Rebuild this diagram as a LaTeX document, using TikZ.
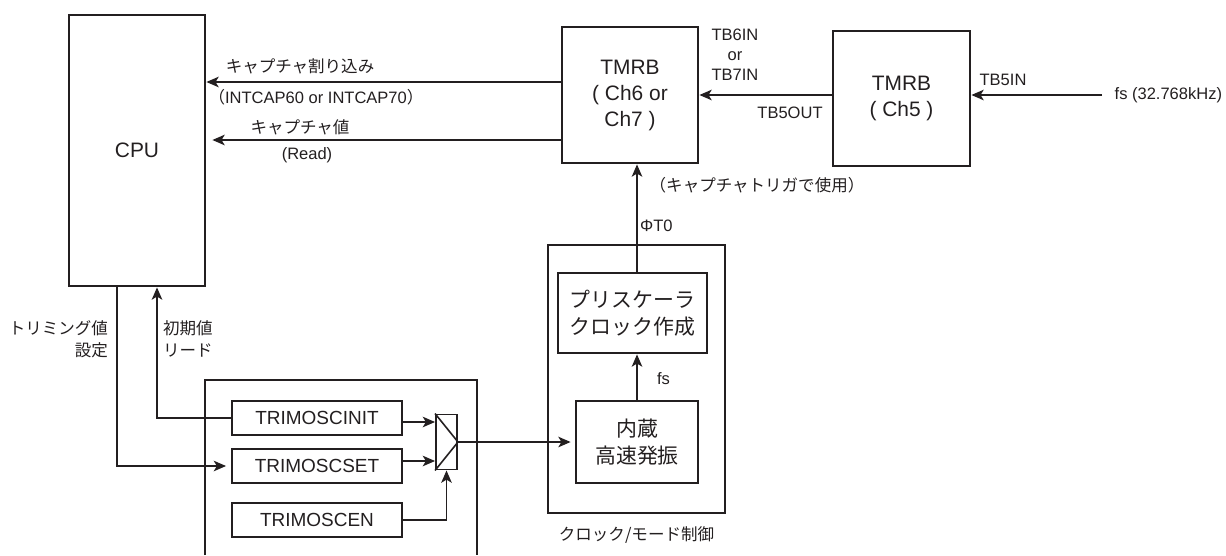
\documentclass[tikz,border=0pt]{standalone}
\usepackage{fontspec}
\setmainfont{Liberation Sans}
\newfontfamily\jpfont{Noto Sans CJK JP}
\usepackage{tikz}
\usetikzlibrary{arrows.meta,positioning,calc}
\definecolor{ink}{HTML}{231F20}
\newcommand\lblfont{\fontsize{9.4}{11.3}\selectfont}
\newcommand\boxfont{\fontsize{11.9}{14.8}\selectfont}
\newcommand\regfont{\fontsize{10.8}{13}\selectfont}
\tikzset{
  % thick outlined block, text centred
  blk/.style  = {rectangle, draw=ink, line width=1.6pt, text=ink, align=center,
                 inner sep=0pt, font=\boxfont},
  jblk/.style = {blk, font=\fontsize{11.9}{15.3}\selectfont\jpfont},
  reg/.style  = {rectangle, draw=ink, line width=1.1pt, text=ink, inner sep=0pt,
                 minimum width=3.4cm, minimum height=0.68cm, font=\regfont},
  arr/.style  = {-{Stealth[length=7pt,width=6pt,inset=1.8pt]}, line width=0.9pt, ink},
  lbl/.style  = {font=\lblfont, text=ink, align=center, inner sep=1pt},
  jlbl/.style = {lbl, font=\fontsize{9.4}{12.5}\selectfont\jpfont},
}
\begin{document}
\begin{tikzpicture}[x=1cm,y=1cm]
\useasboundingbox (0,0) rectangle (24.52,11.1);
% blocks
\node[blk, minimum width=2.72cm, minimum height=5.42cm] (cpu) at (2.74,8.09) {CPU};
\node[blk, minimum width=2.72cm, minimum height=2.72cm] (tm67) at (12.60,9.20)
  {TMRB\\( Ch6 or\\Ch7 )};
\node[blk, minimum width=2.74cm, minimum height=2.70cm] (tm5) at (18.03,9.13)
  {TMRB\\( Ch5 )};
\node[blk, minimum width=3.54cm, minimum height=5.36cm] (clk) at (12.73,3.52) {};
\node[jblk, minimum width=2.98cm, minimum height=1.60cm] (pre) at (12.65,4.84)
  {プリスケーラ\\クロック作成};
\node[jblk, minimum width=2.44cm, minimum height=1.64cm] (osc) at (12.74,2.26)
  {内蔵\\高速発振};
% trimming register group
\draw[ink, line width=1.6pt] (4.10,0) -- (4.10,3.50) -- (9.54,3.50) -- (9.54,0);
\node[reg] (ini) at (6.34,2.74) {TRIMOSCINIT};
\node[reg] (set) at (6.34,1.78) {TRIMOSCSET};
\node[reg] (en)  at (6.34,0.70) {TRIMOSCEN};
\node[rectangle, draw=ink, line width=1.1pt, minimum width=0.42cm, minimum height=1.10cm,
      inner sep=0pt] (mux) at (8.93,2.26) {};
\draw[ink, line width=0.9pt] (mux.north west) -- (mux.east) -- (mux.south west);
% labels
\node[jlbl] (lintr) at (6.00,9.78) {キャプチャ割り込み};
\node[lbl] (lintcap) at (6.32,9.16) {{\jpfont （}INTCAP60 or INTCAP70{\jpfont ）}};
\node[jlbl] (lval) at (6.00,8.56) {キャプチャ値};
\node[lbl] (lread) at (6.14,8.00) {(Read)};
\node[lbl] (ltbin) at (14.70,10.00) {TB6IN\\or\\TB7IN};
\node[lbl] (ltbout) at (15.80,8.84) {TB5OUT};
\node[lbl] (ltb5in) at (20.06,9.50) {TB5IN};
\node[lbl, anchor=west, inner xsep=7pt] (fsrc) at (22.04,9.20) {fs (32.768kHz)};
\node[jlbl] (ltrig) at (15.14,7.40) {（キャプチャトリガで使用）};
\node[lbl, anchor=west] (lphi) at (12.76,6.58) {ΦT0};
\node[lbl, anchor=west] (lfs) at (13.10,3.52) {fs};
\node[jlbl] (lclk) at (12.73,0.40) {クロック/モード制御};
\node[jlbl, anchor=east, align=right] (ltrset) at (2.20,4.32) {トリミング値\\設定};
\node[jlbl, anchor=west, align=left] (linit) at (3.22,4.32) {初期値\\リード};
% connections
\draw[arr] ([yshift=0.26cm]tm67.west) -- ([yshift=0.26cm]tm67.west -| cpu.east);
\draw[arr, shorten >=0.12cm] ([yshift=-0.90cm]tm67.west) -- ([yshift=-0.90cm]tm67.west -| cpu.east);
\draw[arr] (tm5.west |- tm67.east) -- (tm67.east);
\draw[arr] (fsrc.west) -- (fsrc.west -| tm5.east);
\draw[arr] (osc.north |- pre.north) -- (osc.north |- tm67.south);
\draw[arr] (osc.north) -- (osc.north |- pre.south);
\draw[arr, shorten >=0.08cm] (mux.east) -- (mux.east -| osc.west);
\draw[arr] ([yshift=-0.08cm]ini.east) -- ([yshift=-0.08cm]ini.east -| mux.west);
\draw[arr] ([yshift=0.10cm]set.east) -- ([yshift=0.10cm]set.east -| mux.west);
\draw[arr] (en.east) -| (mux.south);
\draw[arr, shorten >=0.1cm] ([xshift=-0.4cm]cpu.south) |- (set.west);
\draw[arr] (ini.west) -| ([xshift=0.4cm]cpu.south);
\end{tikzpicture}
\end{document}
